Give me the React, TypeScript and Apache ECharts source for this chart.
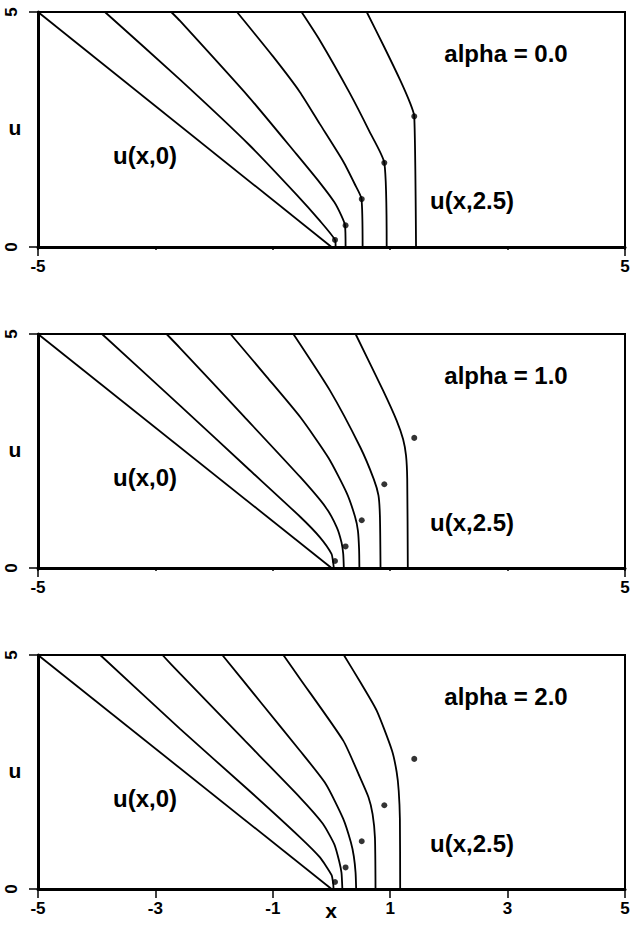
import React, { useEffect, useRef } from "react";
import * as echarts from "echarts";

type Pt = [number, number];

// x range and u range of every panel
const X_MIN = -5;
const X_MAX = 5;
const U_MIN = 0;
const U_MAX = 5;

// panel titles and labels
const panelTitles = ["alpha = 0.0", "alpha = 1.0", "alpha = 2.0"];
const initialLabel = "u(x,0)";
const finalLabel = "u(x,2.5)";
const xName = "x";
const uName = "u";

// profiles at t = 0, 0.5, 1.0, 1.5, 2.0, 2.5 (alpha = 0.0)
const alpha0Curves: Pt[][] = [
  [[-5, 5], [0, 0]],
  [[-3.86, 5], [-2.58, 3.56], [-1.4, 2.17], [-0.6, 1.12], [-0.2, 0.56], [0.06, 0.15], [0.07, 0]],
  [[-2.73, 5], [-2.58, 4.81], [-1.4, 3.18], [-0.6, 1.98], [-0.2, 1.37], [0.05, 0.95], [0.17, 0.66], [0.23, 0.46], [0.24, 0]],
  [[-1.61, 5], [-1.0, 4.06], [-0.54, 3.3], [-0.2, 2.62], [0.2, 1.82], [0.4, 1.33], [0.51, 1.03], [0.53, 0]],
  [[-0.51, 5], [-0.2, 4.4], [0.3, 3.3], [0.65, 2.45], [0.9, 1.79], [0.94, 0]],
  [[0.6, 5], [0.9, 4.25], [1.17, 3.55], [1.34, 3.06], [1.41, 2.78], [1.44, 0]],
];

// profiles at t = 0 ... 2.5 (alpha = 1.0)
const alpha1Curves: Pt[][] = [
  [[-5, 5], [0, 0]],
  [[-3.91, 5], [-2.58, 3.47], [-1.4, 2.1], [-0.53, 1.09], [-0.2, 0.66], [0.0, 0.3], [0.03, 0.1], [0.04, 0]],
  [[-2.81, 5], [-2.58, 4.7], [-1.5, 3.25], [-0.53, 1.94], [-0.1, 1.3], [0.09, 0.87], [0.17, 0.55], [0.2, 0.3], [0.21, 0]],
  [[-1.72, 5], [-1.1, 4.08], [-0.53, 3.22], [-0.05, 2.35], [0.26, 1.6], [0.4, 1.1], [0.45, 0.8], [0.47, 0.4], [0.475, 0]],
  [[-0.65, 5], [-0.025, 3.79], [0.49, 2.58], [0.72, 1.9], [0.8, 1.55], [0.825, 1.1], [0.835, 0]],
  [[0.41, 5], [0.88, 3.79], [1.11, 3.15], [1.22, 2.75], [1.27, 2.4], [1.29, 1.9], [1.3, 0]],
];

// profiles at t = 0 ... 2.5 (alpha = 2.0)
const alpha2Curves: Pt[][] = [
  [[-5, 5], [0, 0]],
  [[-3.94, 5], [-2.58, 3.42], [-1.4, 2.1], [-0.54, 1.11], [-0.2, 0.68], [0.0, 0.3], [0.03, 0.1], [0.035, 0]],
  [[-2.88, 5], [-2.58, 4.6], [-1.5, 3.2], [-0.54, 1.96], [-0.15, 1.4], [0.05, 0.95], [0.13, 0.6], [0.17, 0.35], [0.185, 0]],
  [[-1.86, 5], [-1.2, 3.98], [-0.54, 2.96], [-0.1, 2.25], [0.2, 1.5], [0.33, 1.0], [0.38, 0.7], [0.41, 0.35], [0.42, 0]],
  [[-0.82, 5], [-0.54, 4.5], [0.2, 3.17], [0.48, 2.4], [0.63, 1.96], [0.7, 1.6], [0.74, 1.1], [0.75, 0]],
  [[0.21, 5], [0.5, 4.4], [0.77, 3.81], [1.03, 2.96], [1.11, 2.5], [1.145, 2.1], [1.165, 1.5], [1.17, 0]],
];

// reference shock points (same in every panel)
const shockDots: Pt[] = [
  [0.06, 0.15],
  [0.24, 0.46],
  [0.515, 1.02],
  [0.9, 1.79],
  [1.41, 2.78],
];

const panels = [alpha0Curves, alpha1Curves, alpha2Curves];

const FONT = "'Liberation Sans', Arial, Helvetica, sans-serif";

function buildOption() {
  const tops = [12, 334, 655];
  const heights = [235, 234, 234];
  const grid: any[] = [];
  const xAxis: any[] = [];
  const yAxis: any[] = [];
  const series: any[] = [];
  const graphic: any[] = [];

  const txt = (text: string, x: number, y: number, size: number) => ({
    type: "text",
    x,
    y,
    z: 10,
    style: {
      text,
      font: `bold ${size}px ${FONT}`,
      fill: "#000",
      align: "center",
      verticalAlign: "middle",
      textAlign: "center",
      textVerticalAlign: "middle",
    },
  });

  panels.forEach((curves, i) => {
    const last = i === panels.length - 1;
    grid.push({
      left: 38,
      right: 5,
      top: tops[i],
      height: heights[i],
      containLabel: false,
      outerBoundsMode: "none",
      show: true,
      borderColor: "#000",
      borderWidth: 2,
      backgroundColor: "transparent",
    });
    // main axis (draws line + short ticks)
    xAxis.push({
      gridIndex: i,
      type: "value",
      position: "bottom",
      min: X_MIN,
      max: X_MAX,
      interval: 2,
      axisLine: { show: true, onZero: false, lineStyle: { color: "#000", width: 3 } },
      axisTick: { show: !last, length: 3, lineStyle: { color: "#000", width: 1.5 } },
      axisLabel: { show: false },
      splitLine: { show: false },
    });
    // label axis (long ticks + labels)
    xAxis.push({
      gridIndex: i,
      type: "value",
      position: "bottom",
      offset: 0,
      min: X_MIN,
      max: X_MAX,
      interval: last ? 2 : 10,
      axisLine: { show: false, onZero: false },
      axisTick: { show: true, length: 9, lineStyle: { color: "#000", width: 1.5 } },
      axisLabel: {
        show: true,
        margin: 11,
        color: "#000",
        fontSize: 17,
        fontWeight: "bold",
        fontFamily: FONT,
      },
      splitLine: { show: false },
    });
    yAxis.push({
      gridIndex: i,
      type: "value",
      position: "left",
      min: U_MIN,
      max: U_MAX,
      interval: 5,
      axisLine: { show: true, onZero: false, lineStyle: { color: "#000", width: 3 } },
      axisTick: { show: true, length: 9, lineStyle: { color: "#000", width: 1.5 } },
      axisLabel: {
        show: true,
        rotate: 90,
        margin: 18,
        color: "#000",
        fontSize: 17,
        fontWeight: "bold",
        fontFamily: FONT,
      },
      splitLine: { show: false },
    });

    curves.forEach((c) => {
      series.push({
        type: "line",
        xAxisIndex: 2 * i,
        yAxisIndex: i,
        data: c,
        symbol: "none",
        smooth: 0.2,
        lineStyle: { color: "#000", width: 1.8 },
        silent: true,
        z: 3,
      });
    });
    series.push({
      type: "scatter",
      xAxisIndex: 2 * i,
      yAxisIndex: i,
      data: shockDots,
      symbol: "circle",
      symbolSize: 6,
      itemStyle: { color: "#000" },
      silent: true,
      z: 4,
    });

    const dy = tops[i] - tops[0];
    graphic.push(txt(panelTitles[i], 506, 53 + dy, 24));
    graphic.push(txt(initialLabel, 145, 155 + dy, 24));
    graphic.push(txt(finalLabel, 472, 200 + dy, 24));
    graphic.push(txt(uName, 15, 127 + dy, 21));
    if (last) graphic.push(txt(xName, 331, 910, 21));
  });

  return {
    animation: false,
    backgroundColor: "#fff",
    grid,
    xAxis,
    yAxis,
    series,
    graphic,
  };
}

export default function App() {
  const ref = useRef<HTMLDivElement>(null);
  useEffect(() => {
    if (!ref.current) return;
    const chart = echarts.init(ref.current, null, { renderer: "svg" });
    chart.setOption(buildOption() as any);
    return () => chart.dispose();
  }, []);
  return (
    <div
      ref={ref}
      style={{ position: "fixed", left: 0, top: 0, width: 630, height: 925, background: "#fff" }}
    />
  );
}
